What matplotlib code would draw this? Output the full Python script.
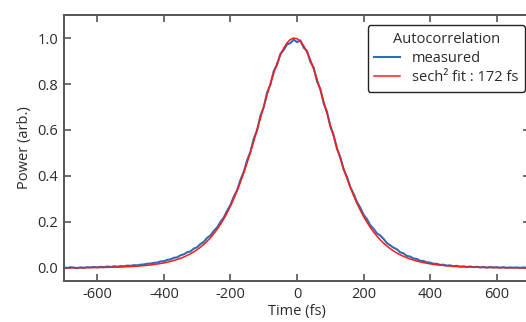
import numpy as np
import matplotlib
matplotlib.use("Agg")
import matplotlib.pyplot as plt

plt.rcParams['font.family'] = ['Open Sans', 'DejaVu Sans']

# delay axis, 10 fs steps
time_fs = np.arange(-700, 701, 10)

measured = [
    0.002, 0.000, 0.003, 0.001, -0.001, 0.002, 0.000, 0.003, 0.002, 0.004,
    0.002, 0.005, 0.003, 0.006, 0.004, 0.007, 0.005, 0.008, 0.007, 0.010,
    0.009, 0.012, 0.011, 0.014, 0.015, 0.018, 0.019, 0.022, 0.023, 0.028,
    0.029, 0.035, 0.037, 0.044, 0.046, 0.055, 0.059, 0.068, 0.072, 0.084,
    0.090, 0.104, 0.113, 0.131, 0.141, 0.161, 0.176, 0.200, 0.219, 0.249,
    0.274, 0.310, 0.338, 0.383, 0.418, 0.468, 0.505, 0.562, 0.598, 0.661,
    0.699, 0.762, 0.797, 0.856, 0.884, 0.931, 0.948, 0.972, 0.978, 0.993,
    0.982, 0.990, 0.958, 0.944, 0.897, 0.871, 0.812, 0.779, 0.716, 0.679,
    0.615, 0.578, 0.518, 0.482, 0.428, 0.396, 0.352, 0.322, 0.287, 0.262,
    0.231, 0.212, 0.186, 0.170, 0.150, 0.141, 0.126, 0.108, 0.098, 0.088,
    0.081, 0.068, 0.063, 0.052, 0.049, 0.041, 0.039, 0.031, 0.030, 0.024,
    0.023, 0.018, 0.018, 0.013, 0.014, 0.010, 0.011, 0.007, 0.009, 0.005,
    0.007, 0.004, 0.006, 0.003, 0.005, 0.002, 0.004, 0.001, 0.004, 0.002,
    0.003, 0.001, 0.003, 0.000, 0.002, 0.001, 0.002, 0.000, 0.002, 0.001,
    0.002,
]

sech2_fit = [
    0.0004, 0.0005, 0.0005, 0.0006, 0.0007, 0.0008, 0.0009, 0.0010, 0.0012, 0.0014,
    0.0015, 0.0018, 0.0020, 0.0023, 0.0026, 0.0030, 0.0034, 0.0039, 0.0045, 0.0051,
    0.0058, 0.0066, 0.0076, 0.0086, 0.0098, 0.0112, 0.0128, 0.0146, 0.0167, 0.0190,
    0.0217, 0.0247, 0.0282, 0.0321, 0.0366, 0.0417, 0.0475, 0.0541, 0.0615, 0.0699,
    0.0794, 0.0902, 0.1024, 0.1161, 0.1314, 0.1486, 0.1679, 0.1894, 0.2133, 0.2396,
    0.2687, 0.3007, 0.3356, 0.3734, 0.4140, 0.4575, 0.5035, 0.5516, 0.6015, 0.6521,
    0.7032, 0.7536, 0.8023, 0.8480, 0.8897, 0.9261, 0.9562, 0.9790, 0.9937, 0.9998,
    0.9972, 0.9859, 0.9662, 0.9389, 0.9049, 0.8652, 0.8209, 0.7733, 0.7235, 0.6726,
    0.6216, 0.5714, 0.5225, 0.4756, 0.4311, 0.3894, 0.3503, 0.3143, 0.2812, 0.2510,
    0.2235, 0.1986, 0.1762, 0.1561, 0.1381, 0.1220, 0.1077, 0.0950, 0.0837, 0.0736,
    0.0648, 0.0570, 0.0501, 0.0440, 0.0386, 0.0339, 0.0297, 0.0261, 0.0229, 0.0201,
    0.0176, 0.0155, 0.0135, 0.0119, 0.0104, 0.0091, 0.0080, 0.0070, 0.0061, 0.0054,
    0.0047, 0.0041, 0.0036, 0.0032, 0.0028, 0.0024, 0.0021, 0.0019, 0.0016, 0.0014,
    0.0012, 0.0011, 0.0010, 0.0008, 0.0007, 0.0006, 0.0006, 0.0005, 0.0004, 0.0004,
    0.0003,
]

fit_label = 'sech² fit : 172 fs'

x_ticks = [-600, -400, -200, 0, 200, 400, 600]
y_ticks = [0.0, 0.2, 0.4, 0.6, 0.8, 1.0]

grey = '#555555'
text_col = '#2b2b2b'
fs = 10.5

fig = plt.figure(figsize=(5.26, 3.22), dpi=100)
ax = fig.add_axes([0.1217, 0.1273, 0.886, 0.826])

ax.plot(time_fs, measured, color='#2f6cb4', lw=1.5, label='measured')
ax.plot(time_fs, sech2_fit, color='#ff1a1a', lw=1.1, label=fit_label)

ax.set_xlim(-700, 700)
ax.set_ylim(-0.057, 1.1)
ax.set_xticks(x_ticks)
ax.set_xticklabels([str(v) for v in x_ticks])
ax.set_yticks(y_ticks)
ax.set_yticklabels([f'{v:.1f}' for v in y_ticks])

for s in ax.spines.values():
    s.set_color(grey)
    s.set_linewidth(1.4)
ax.tick_params(direction='in', top=True, right=True, length=5, width=1.2,
               color=grey, labelcolor=text_col, labelsize=fs, pad=4)

ax.set_xlabel('Time (fs)', fontsize=fs, color=text_col, labelpad=2)
ax.set_ylabel('Power (arb.)', fontsize=fs, color=text_col, labelpad=4)

leg = ax.legend(title='Autocorrelation', loc='upper right',
                bbox_to_anchor=(0.989, 0.962), borderaxespad=0,
                fontsize=fs, title_fontsize=fs, handlelength=1.8,
                handletextpad=0.8, labelspacing=0.3, borderpad=0.45,
                fancybox=True, framealpha=1)
leg.get_frame().set_edgecolor('#222222')
leg.get_frame().set_linewidth(1.0)
leg.get_title().set_color(text_col)
for t in leg.get_texts():
    t.set_color(text_col)

fig.savefig('out.png', dpi=100)
